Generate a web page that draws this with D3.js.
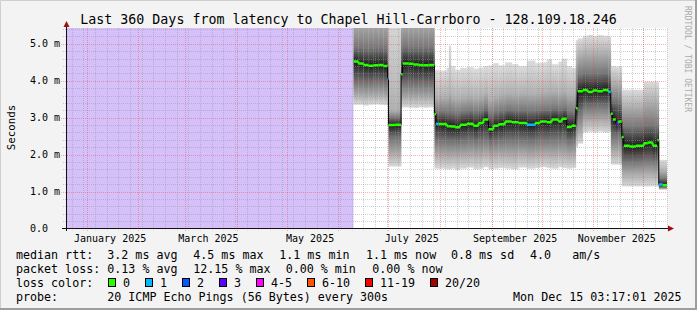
<!DOCTYPE html>
<html><head><meta charset="utf-8">
<script src="https://cdn.jsdelivr.net/npm/d3@7"></script>
<style>
html,body{margin:0;padding:0;background:#f3f3f3;}
svg{display:block;}
text{font-family:"DejaVu Sans Mono",monospace;}
</style></head><body>
<script>
// ---------------- data ----------------
const rangeStart = "2024-12-20T03:17:01";
const rangeEnd   = "2025-12-15T03:17:01";
const unknownEnd = "2025-06-10T00:00:00";
const binStart = [
 "2025-06-10T00:00","2025-06-13T00:00","2025-06-16T00:00","2025-06-19T00:00","2025-06-22T00:00","2025-06-25T00:00","2025-06-28T00:00","2025-06-30T12:00",
 "2025-07-01T00:00","2025-07-05T00:00",
 "2025-07-08T14:00","2025-07-09T12:00","2025-07-13T00:00","2025-07-16T00:00","2025-07-19T00:00","2025-07-22T00:00","2025-07-25T00:00",
 "2025-07-28T14:00","2025-07-29T12:00","2025-07-31T00:00","2025-08-05T00:00","2025-08-06T06:00","2025-08-07T12:00","2025-08-10T00:00","2025-08-13T00:00","2025-08-17T00:00","2025-08-21T00:00","2025-08-24T00:00","2025-08-27T00:00","2025-08-30T00:00",
 "2025-09-02T00:00","2025-09-05T00:00","2025-09-09T00:00","2025-09-13T00:00","2025-09-17T00:00","2025-09-22T00:00","2025-09-27T00:00","2025-09-30T00:00",
 "2025-10-04T00:00","2025-10-07T00:00","2025-10-11T00:00","2025-10-13T00:00","2025-10-16T00:00","2025-10-19T00:00","2025-10-21T10:00",
 "2025-10-22T14:00","2025-10-25T14:00","2025-10-28T14:00","2025-10-31T14:00","2025-11-03T14:00","2025-11-06T14:00","2025-11-09T22:00",
 "2025-11-11T10:00","2025-11-12T14:00","2025-11-14T10:00","2025-11-15T22:00",
 "2025-11-18T00:00","2025-11-19T05:00","2025-11-22T19:00","2025-11-26T10:00","2025-12-01T05:00","2025-12-03T14:00","2025-12-06T14:00","2025-12-09T07:00",
 "2025-12-10T05:00","2025-12-12T14:00"
];
// median rtt per bin (ms)
const median = [
 4.52,4.47,4.43,4.41,4.42,4.43,4.40,4.05,
 2.80,2.81,
 4.18,4.47,4.46,4.44,4.43,4.42,4.43,
 3.10,2.84,2.83,2.77,2.77,2.76,2.74,2.81,2.84,2.78,2.86,2.95,2.69,
 2.78,2.82,2.90,2.88,2.86,2.81,2.86,2.90,
 2.88,2.95,2.90,2.97,2.75,2.78,3.26,
 3.72,3.75,3.70,3.74,3.72,3.75,3.70,
 3.11,2.95,2.84,2.90,
 2.48,2.24,2.22,2.24,2.31,2.33,2.24,2.39,
 1.19,1.17
];
// lost pings (of 20) per bin
const loss = [
 0,0,0,0,0,0,0,1,
 0,0,
 0,0,0,0,0,0,0,
 0,1,0,0,0,0,0,0,0,0,0,0,0,
 0,0,0,0,0,1,0,0,
 0,0,0,0,0,0,0,
 0,0,0,0,0,0,1,
 0,0,3,0,
 0,0,0,0,0,0,0,0,
 1,0
];
// smoke distribution per bin (ms): min, 10%, 25%, 75%, 90%, max
const smokeMin = [
 3.35,3.35,3.33,3.35,3.36,3.35,3.34,3.35,
 1.68,1.68,
 3.27,3.28,3.27,3.26,3.28,3.27,3.28,
 1.62,1.62,1.62,1.60,1.60,1.62,1.58,1.62,1.65,1.60,1.62,1.66,1.60,
 1.62,1.64,1.62,1.60,1.65,1.62,1.64,1.66,
 1.64,1.62,1.66,1.64,1.62,1.64,2.20,
 2.30,2.60,2.62,2.60,2.62,2.60,2.62,
 1.73,1.73,1.73,1.73,
 1.14,1.14,1.14,1.14,1.14,1.14,1.14,1.14,
 1.05,1.05
];
const smokeP10 = [
 3.62,3.62,3.60,3.62,3.62,3.62,3.60,3.60,
 2.05,2.05,
 3.55,3.56,3.55,3.55,3.56,3.55,3.55,
 2.00,2.00,2.00,1.98,1.98,2.00,1.98,2.00,2.02,2.00,2.00,2.04,1.98,
 2.00,2.02,2.02,2.00,2.04,2.00,2.02,2.04,
 2.04,2.02,2.05,2.04,2.00,2.02,2.50,
 2.65,2.95,2.95,2.95,2.96,2.95,2.95,
 2.10,2.10,2.10,2.10,
 1.50,1.50,1.50,1.50,1.52,1.52,1.50,1.50,
 1.08,1.08
];
const smokeQ1 = [
 4.00,4.00,3.98,3.98,4.00,4.00,3.98,3.95,
 2.50,2.50,
 3.95,3.96,3.95,3.95,3.96,3.95,3.95,
 2.45,2.42,2.42,2.40,2.40,2.40,2.38,2.42,2.44,2.40,2.42,2.46,2.36,
 2.40,2.42,2.45,2.44,2.44,2.42,2.44,2.46,
 2.46,2.48,2.46,2.50,2.40,2.42,2.90,
 3.20,3.35,3.34,3.35,3.36,3.35,3.34,
 2.55,2.55,2.55,2.55,
 1.85,1.85,1.84,1.85,1.88,1.88,1.85,1.85,
 1.12,1.12
];
const smokeQ3 = [
 4.90,4.90,4.88,4.88,4.90,4.90,4.88,4.85,
 3.00,3.00,
 4.90,4.92,4.90,4.90,4.90,4.90,4.90,
 3.20,3.15,3.15,3.12,3.15,3.12,3.10,3.15,3.18,3.15,3.18,3.25,3.08,
 3.15,3.18,3.22,3.20,3.20,3.18,3.20,3.22,
 3.22,3.25,3.22,3.26,3.15,3.15,3.80,
 4.15,4.20,4.18,4.20,4.20,4.22,4.18,
 3.45,3.45,3.45,3.45,
 2.75,2.75,2.74,2.75,2.80,2.80,2.78,2.80,
 1.35,1.35
];
const smokeP90 = [
 5.60,5.60,5.60,5.60,5.60,5.60,5.60,5.55,
 3.20,3.20,
 5.60,5.60,5.60,5.60,5.60,5.60,5.60,
 3.55,3.55,3.55,3.55,3.70,3.55,3.52,3.55,3.58,3.55,3.58,3.65,3.50,
 3.58,3.62,3.66,3.64,3.66,3.64,3.66,3.68,
 3.70,3.72,3.68,3.72,3.62,3.60,4.50,
 4.70,4.75,4.74,4.76,4.75,4.76,4.74,
 3.95,3.95,3.95,3.95,
 3.30,3.30,3.30,3.30,3.45,3.45,3.45,3.45,
 1.55,1.55
];
const smokeMax = [
 7.0,7.0,7.0,7.0,7.0,7.0,7.0,7.0,
 6.0,6.0,
 7.0,7.0,7.0,7.0,7.0,7.0,7.0,
 4.30,4.30,4.28,4.35,4.95,4.40,4.30,4.35,4.37,4.33,4.36,4.40,4.42,
 4.48,4.42,4.50,4.45,4.40,4.55,4.48,4.50,
 4.58,4.45,4.52,4.60,4.40,4.35,5.10,
 5.15,5.22,5.24,5.22,5.24,5.22,5.20,
 4.40,4.40,4.38,4.40,
 3.76,3.76,3.76,3.76,3.98,3.98,3.98,3.98,
 1.86,1.86
];
const yTicks = [0,1,2,3,4,5];
const yTickLabels = ["0.0","1.0 m","2.0 m","3.0 m","4.0 m","5.0 m"];
const monthLabelDates = ["2025-01-15","2025-03-15","2025-05-15","2025-07-15","2025-09-15","2025-11-15"];
const monthLabels = ["January 2025","March 2025","May 2025","July 2025","September 2025","November 2025"];
const lossClasses = ["0","1","2","3","4-5","6-10","11-19","20/20"];
const lossColors = ["#26ff00","#00b8ff","#0059ff","#5e00ff","#ff00ff","#ff5500","#ff0000","#a10000"];
const title = "Last 360 Days from latency to Chapel Hill-Carrboro - 128.109.18.246";
const legendRtt = [["median rtt:",16],["3.2 ms avg",107.3],["4.5 ms max",193.3],["1.1 ms min",279.3],["1.1 ms now",366],["0.8 ms sd",451],["4.0",530],["am/s",572.3]];
const legendLoss = [["packet loss:",16],["0.13 % avg",107.3],["12.15 % max",193.3],["0.00 % min",285.7],["0.00 % now",372.3]];
const probeText = "20 ICMP Echo Pings (56 Bytes) every 300s";
const stampText = "Mon Dec 15 03:17:01 2025";

// ---------------- drawing ----------------
const W = 697, H = 310;
const P = d => new Date(d);
const x = d3.scaleTime().domain([P(rangeStart), P(rangeEnd)]).range([67, 667]);
const y = d3.scaleLinear().domain([0, 5.43]).range([228.5, 28]);
const svg = d3.select("body").append("svg").attr("width", W).attr("height", H);
const defs = svg.append("defs");

svg.append("rect").attr("width", W).attr("height", H).attr("fill", "#f3f3f3");
// 3d border
svg.append("path").attr("d", `M0.5,${H} V0.5 H${W}`).attr("stroke", "#cfcfcf").attr("fill", "none");
svg.append("path").attr("d", `M0,${H-1} H${W-1} V0`).attr("stroke", "#9e9e9e").attr("stroke-width", 2).attr("fill", "none");

const px0 = 67, px1 = 667, py0 = 28, py1 = 228.5;
defs.append("clipPath").attr("id", "plotclip").append("rect")
  .attr("x", px0).attr("y", py0).attr("width", px1 - px0).attr("height", py1 - py0);
svg.append("rect").attr("x", px0).attr("y", py0).attr("width", px1 - px0).attr("height", py1 - py0).attr("fill", "#ffffff");

const plot = svg.append("g").attr("clip-path", "url(#plotclip)");
// unknown area
plot.append("rect").attr("x", x(P(rangeStart))).attr("y", py0)
  .attr("width", x(P(unknownEnd)) - x(P(rangeStart))).attr("height", py1 - py0).attr("fill", "#d6c0fa");

// smoke
const bins = binStart.map((s, i) => ({
  x0: x(P(s)), x1: x(P(i + 1 < binStart.length ? binStart[i + 1] : rangeEnd)),
  med: median[i], loss: loss[i], lo: smokeMin[i], p10: smokeP10[i], q1: smokeQ1[i],
  q3: smokeQ3[i], p90: smokeP90[i], hi: smokeMax[i]
}));
bins.forEach((b, i) => {
  const yTop = y(b.hi), yBot = y(b.lo), span = yBot - yTop;
  const off = v => Math.max(0, Math.min(1, (y(v) - yTop) / span));
  const g = defs.append("linearGradient").attr("id", "sm" + i)
    .attr("gradientUnits", "userSpaceOnUse").attr("x1", 0).attr("x2", 0).attr("y1", yTop).attr("y2", yBot);
  [[b.hi, "#dcdcdc"], [b.p90, "#b0b0b0"], [b.q3, "#777777"], [b.med, "#1e1e1e"],
   [b.q1, "#6e6e6e"], [b.p10, "#a8a8a8"], [b.lo, "#d8d8d8"]].forEach(([v, c]) =>
    g.append("stop").attr("offset", off(v)).attr("stop-color", c));
  plot.append("rect").attr("x", b.x0).attr("width", b.x1 - b.x0 + 0.3)
    .attr("y", yTop).attr("height", span).attr("fill", `url(#sm${i})`);
});

// grid
const grid = svg.append("g");
const minorCol = "rgba(150,150,150,0.45)", majorCol = "rgba(235,70,70,0.42)";
const minorY = d3.range(0, 5.43, 0.2).filter(v => Math.abs(v - Math.round(v)) > 0.01);
minorY.forEach(v => grid.append("line").attr("x1", 63).attr("x2", px1).attr("y1", Math.round(y(v)) + 0.5).attr("y2", Math.round(y(v)) + 0.5)
  .attr("stroke", minorCol).attr("stroke-dasharray", "1,1"));
const weeks = d3.timeMonday.range(P(rangeStart), P(rangeEnd));
weeks.forEach(d => grid.append("line").attr("x1", Math.round(x(d)) + 0.5).attr("x2", Math.round(x(d)) + 0.5).attr("y1", py0).attr("y2", py1 + 2)
  .attr("stroke", minorCol).attr("stroke-dasharray", "1,1"));
const months = d3.timeMonth.range(P(rangeStart), P(rangeEnd));
months.forEach(d => grid.append("line").attr("x1", Math.round(x(d)) + 0.5).attr("x2", Math.round(x(d)) + 0.5).attr("y1", py0).attr("y2", py1 + 3)
  .attr("stroke", majorCol).attr("stroke-dasharray", "1,1"));
yTicks.filter(v => v > 0).forEach(v => grid.append("line").attr("x1", 61).attr("x2", px1).attr("y1", Math.round(y(v)) + 0.5).attr("y2", Math.round(y(v)) + 0.5)
  .attr("stroke", majorCol).attr("stroke-dasharray", "1,1"));

// median line
const med = svg.append("g").attr("clip-path", "url(#plotclip)");
bins.forEach((b, i) => {
  if (i > 0) {
    const pb = bins[i - 1];
    const dy = Math.abs(y(b.med) - y(pb.med));
    med.append("line").attr("x1", b.x0).attr("x2", b.x0).attr("y1", y(pb.med)).attr("y2", y(b.med))
      .attr("stroke", dy > 4 ? "#000" : lossColors[0]).attr("stroke-width", dy > 4 ? 1 : 2);
  }
});
function lossIdx(l) { return l === 0 ? 0 : l === 1 ? 1 : l === 2 ? 2 : l === 3 ? 3 : l <= 5 ? 4 : l <= 10 ? 5 : l <= 19 ? 6 : 7; }
bins.forEach(b => {
  med.append("line").attr("x1", b.x0).attr("x2", b.x1).attr("y1", y(b.med)).attr("y2", y(b.med))
    .attr("stroke", lossColors[lossIdx(b.loss)]).attr("stroke-width", 2.5);
});

// axes
const ax = svg.append("g");
ax.append("line").attr("x1", 62).attr("x2", 670).attr("y1", 228.5).attr("y2", 228.5).attr("stroke", "#101010");
ax.append("line").attr("x1", 66.5).attr("x2", 66.5).attr("y1", 231).attr("y2", 25).attr("stroke", "#101010");
ax.append("path").attr("d", "M668,225.5 L674,228.5 L668,231.5 Z").attr("fill", "#a01010");
ax.append("path").attr("d", "M63.5,27 L66.5,21 L69.5,27 Z").attr("fill", "#a01010");

yTicks.forEach((v, i) => svg.append("text").attr("x", 30).attr("y", y(v) + 3.5)
  .attr("font-size", "10px").attr("fill", "#000").text(yTickLabels[i]));
monthLabelDates.forEach((d, i) => svg.append("text").attr("x", x(P(d + "T00:00"))).attr("y", 241.5)
  .attr("text-anchor", "middle").attr("font-size", "10px").text(monthLabels[i]));

svg.append("text").attr("transform", "translate(14.5,127.5) rotate(-90)").attr("text-anchor", "middle")
  .attr("font-size", "10.8px").text("Seconds");
svg.append("text").attr("x", W / 2).attr("y", 23.5).attr("text-anchor", "middle")
  .attr("font-size", "13.3px").text(title);
svg.append("text").attr("transform", "translate(685,6) rotate(90)").attr("font-size", "8px")
  .attr("fill", "#aaaaaa").text("RRDTOOL / TOBI OETIKER");

// legend
const lf = "11.67px";
legendRtt.forEach(([t, xx]) => svg.append("text").attr("x", xx).attr("y", 258.5).attr("font-size", lf).attr("xml:space", "preserve").text(t));
legendLoss.forEach(([t, xx]) => svg.append("text").attr("x", xx).attr("y", 272.5).attr("font-size", lf).attr("xml:space", "preserve").text(t));
svg.append("text").attr("x", 16).attr("y", 286.5).attr("font-size", lf).text("loss color:");
const boxX = [108.5, 145.5, 182.5, 219.5, 256.5, 307.5, 365.5, 430.5];
lossClasses.forEach((c, i) => {
  svg.append("rect").attr("x", boxX[i]).attr("y", 278.5).attr("width", 7).attr("height", 8)
    .attr("fill", lossColors[i]).attr("stroke", "#000");
  svg.append("text").attr("x", boxX[i] + 14.5).attr("y", 286.5).attr("font-size", lf).text(c);
});
svg.append("text").attr("x", 16).attr("y", 300.5).attr("font-size", lf).text("probe:");
svg.append("text").attr("x", 107.3).attr("y", 300.5).attr("font-size", lf).text(probeText);
svg.append("text").attr("x", 681.5).attr("y", 300.5).attr("text-anchor", "end").attr("font-size", lf).text(stampText);
</script>
</body></html>
